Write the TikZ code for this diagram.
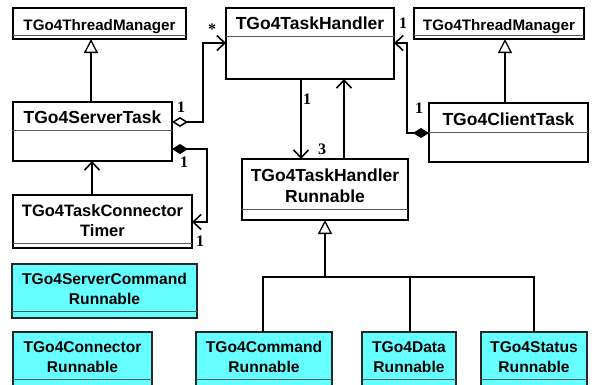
\documentclass[tikz,border=0pt]{standalone}
\usepackage{fontspec}
\setmainfont{Liberation Sans}
\newfontfamily\lblfont{Liberation Serif}
\usetikzlibrary{arrows.meta,calc}
\definecolor{clscyan}{RGB}{102,255,255}
\tikzset{
  clsbox/.style={draw=black, line width=1.5pt, rectangle, inner sep=0pt, outer sep=0pt},
  plainfill/.style={fill=white},
  cyanfill/.style={fill=clscyan, draw=black!85},
  divline/.style={draw=black!65, line width=1pt},
  bigtxt/.style={font=\fontsize{17.5}{21}\selectfont\bfseries, align=center, inner sep=0pt, yshift=-7.8pt},
  midtxt/.style={font=\fontsize{16.5}{20}\selectfont\bfseries, align=center, inner sep=0pt, yshift=-7.4pt},
  smalltxt/.style={font=\fontsize{15.6}{20}\selectfont\bfseries, align=center, inner sep=0pt, yshift=-7.1pt},
  tmtxt/.style={font=\fontsize{15.2}{20}\selectfont\bfseries, align=center, inner sep=0pt, yshift=-8.5pt},
  conn/.style={line width=1.8pt, line join=miter},
  barb/.tip={Straight Barb[length=8pt,width=15pt,line width=1.6pt]},
  odia/.tip={Diamond[open,length=16pt,width=10pt,line width=1.5pt]},
  fdia/.tip={Diamond[length=16pt,width=10pt]},
  openhead/.style={-barb},
  gen/.style={line width=1.8pt, -{Triangle[open,length=14pt,width=14pt,line width=1.3pt]}},
  busline/.style={line width=1.3pt},
  mult/.style={font=\lblfont\fontsize{16}{18}\selectfont\bfseries, inner sep=0pt, anchor=base}
}
\newcommand\umlcls[9]{%
  \node[clsbox,#7,minimum width={(#4-#2)*1pt},minimum height={(#5-#3)*1pt},anchor=north west] (#1) at (#2,#3) {};
  \draw[divline] (#2,#6) -- (#4,#6);
  \node[#8] (#1-txt) at ({(#2+#4)/2},{(#3+#6)/2}) {#9};
}
\begin{document}
\begin{tikzpicture}[x=1pt,y=-1pt]
\useasboundingbox (0,0) rectangle (595,384);
\clip (0,0) rectangle (595,384);

% classes
\umlcls{tmL}{13}{8}{186}{39}{35}{plainfill}{tmtxt}{\smash{TGo4ThreadManager}}
\umlcls{th}{226}{8}{394}{79}{36}{plainfill}{bigtxt}{\smash{TGo4TaskHandler}}
\umlcls{tmR}{414}{8}{584}{39}{35}{plainfill}{tmtxt}{\smash{TGo4ThreadManager}}
\umlcls{st}{13}{102}{172}{161}{130}{plainfill}{bigtxt}{\smash{TGo4ServerTask}}
\umlcls{ct}{429}{103}{588}{162}{132}{plainfill}{bigtxt}{\smash{TGo4ClientTask}}
\umlcls{tct}{13}{195}{192}{248}{243}{plainfill}{midtxt}{\smash{TGo4TaskConnector}\\\smash{Timer}}
\umlcls{thr}{242}{159}{408}{220}{209}{plainfill}{bigtxt}{\smash{TGo4TaskHandler}\\\smash{Runnable}}
\umlcls{scr}{12}{264}{197}{318}{311}{cyanfill}{smalltxt}{\smash{TGo4ServerCommand}\\\smash{Runnable}}
\umlcls{cr}{13}{332}{152}{394}{379}{cyanfill}{smalltxt}{\smash{TGo4Connector}\\\smash{Runnable}}
\umlcls{cmd}{196}{332}{332}{394}{379}{cyanfill}{smalltxt}{\smash{TGo4Command}\\\smash{Runnable}}
\umlcls{dat}{362}{332}{456}{394}{379}{cyanfill}{smalltxt}{\smash{TGo4Data}\\\smash{Runnable}}
\umlcls{sta}{481}{332}{587}{394}{379}{cyanfill}{smalltxt}{\smash{TGo4Status}\\\smash{Runnable}}

% generalizations to thread managers
\draw[gen] ($(st.north west)+(78,0)$) -- ($(tmL.south west)+(78,0)$);
\draw[gen] ($(ct.north west)+(76,0)$) -- ($(tmR.south west)+(91,0)$);

% server task aggregation to task handler
\draw[conn, odia-barb]
  ($(st.north east)+(0,20)$) -| ($(th.north west)+(-23,35)$) -- ($(th.north west)+(0,35)$);
% server task composition to timer
\draw[conn, fdia-barb]
  ($(st.north east)+(0,47)$) -| ($(tct.north east)+(15,27)$) -- ($(tct.north east)+(0,27)$);
% timer to server task
\draw[conn, openhead] ($(tct.north west)+(79,0)$) -- ($(st.south west)+(79,0)$);
% task handler <-> runnable
\draw[conn, openhead] ($(th.south west)+(75,0)$) -- ($(thr.north west)+(59,0)$);
\draw[conn, openhead] ($(thr.north west)+(102,0)$) -- ($(th.south west)+(118,0)$);
% client task composition to task handler
\draw[conn, fdia-barb]
  ($(ct.north west)+(0,30)$) -| ($(th.north east)+(13,35)$) -- ($(th.north east)+(0,35)$);

% generalization tree to runnable
\coordinate (bus) at (325,277);
\draw[gen] (bus) -- (thr.south);
\draw[busline] ($(cmd.north west)+(67,0)$) |- (bus) -| ($(sta.north west)+(53,0)$);
\draw[busline] ($(dat.north west)+(48,0)$) |- (bus);

% multiplicities
\node[mult] (m1) at (212,34) {*};
\node[mult] (m2) at (403,28) {1};
\node[mult] (m3) at (181,112) {1};
\node[mult] (m4) at (184,167) {1};
\node[mult] (m5) at (200,246) {1};
\node[mult] (m6) at (307,104) {1};
\node[mult] (m7) at (322,154) {3};
\node[mult] (m8) at (419,113) {1};
\end{tikzpicture}
\end{document}
